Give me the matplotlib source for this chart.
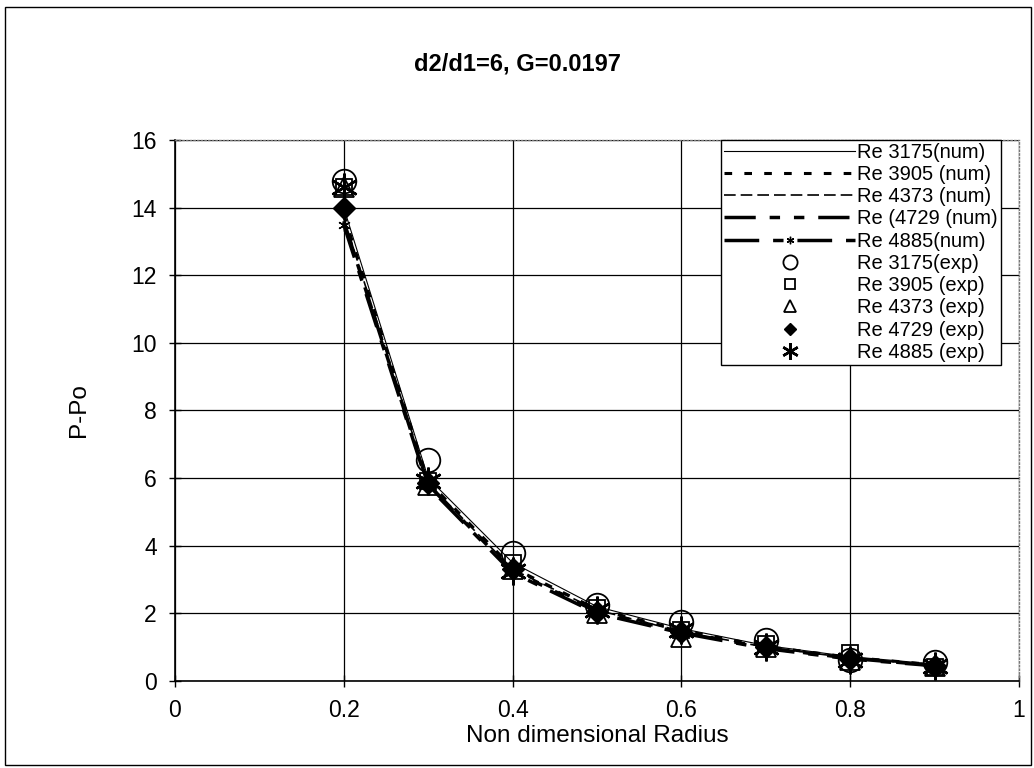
import matplotlib
matplotlib.use("Agg")
import matplotlib.pyplot as plt
from matplotlib.patches import Rectangle

plt.rcParams["font.family"] = ["Liberation Sans", "DejaVu Sans"]

# ------------------------------------------------------------
# Pressure rise P-Po along the non dimensional radius
# ------------------------------------------------------------

radius = [0.2, 0.3, 0.4, 0.5, 0.6, 0.7, 0.8, 0.9]

# numerical results
num_3175 = [14.0, 6.0, 3.5, 2.2, 1.55, 1.05, 0.72, 0.50]
num_3905 = [13.8, 5.9, 3.35, 2.12, 1.50, 1.02, 0.70, 0.48]
num_4373 = [13.7, 5.85, 3.3, 2.10, 1.46, 1.00, 0.68, 0.47]
num_4729 = [13.6, 5.8, 3.25, 2.05, 1.45, 0.98, 0.67, 0.46]
num_4885 = [13.5, 5.75, 3.2, 2.00, 1.42, 0.96, 0.65, 0.45]

# experimental results
exp_3175 = [14.8, 6.55, 3.8, 2.25, 1.75, 1.2, 0.62, 0.57]
exp_3905 = [14.6, 5.9, 3.5, 2.15, 1.5, 1.1, 0.84, 0.42]
exp_4373 = [14.6, 5.8, 3.3, 2.0, 1.3, 1.0, 0.62, 0.45]
exp_4729 = [14.0, 5.85, 3.3, 2.05, 1.45, 1.0, 0.65, 0.45]
exp_4885 = [14.6, 5.9, 3.25, 2.1, 1.5, 1.0, 0.62, 0.45]

x_ticks = [0, 0.2, 0.4, 0.6, 0.8, 1]
x_tick_labels = ["0", "0.2", "0.4", "0.6", "0.8", "1"]
y_ticks = [0, 2, 4, 6, 8, 10, 12, 14, 16]

fig = plt.figure(figsize=(10.34, 7.68), dpi=100)
ax = fig.add_axes([0.1692, 0.1133, 0.8163, 0.7044])

# outer chart frame
fig.patches.append(Rectangle((0.005, 0.004), 0.992, 0.987, transform=fig.transFigure,
                             fill=False, edgecolor="black", linewidth=1.0))

# numerical curves
ax.plot(radius, num_3175, color="black", linewidth=0.8, label="Re 3175(num)")
ax.plot(radius, num_3905, color="black", linewidth=2.2, dashes=(2.5, 4),
        label="Re 3905 (num)")
ax.plot(radius, num_4373, color="black", linewidth=1.2, dashes=(7, 3),
        label="Re 4373 (num)")
ax.plot(radius, num_4729, color="black", linewidth=2.5, dashes=(9, 4, 3, 4, 3, 4),
        label="Re (4729 (num)")
ax.plot(radius, num_4885, color="black", linewidth=2.5, dashes=(10, 4, 3, 4),
        label="Re 4885(num)", marker=(6, 2, 0), markersize=9, markeredgewidth=1.0,
        markevery=[0])

# experimental points
ax.plot(radius, exp_3175, linestyle="none", marker="o", markersize=17,
        markerfacecolor="none", markeredgecolor="black", markeredgewidth=1.3,
        label="Re 3175(exp)")
ax.plot(radius, exp_3905, linestyle="none", marker="s", markersize=12,
        markerfacecolor="none", markeredgecolor="black", markeredgewidth=1.3,
        label="Re 3905 (exp)")
ax.plot(radius, exp_4373, linestyle="none", marker="^", markersize=14,
        markerfacecolor="none", markeredgecolor="black", markeredgewidth=1.3,
        label="Re 4373 (exp)")
ax.plot(radius, exp_4729, linestyle="none", marker="D", markersize=11,
        markerfacecolor="black", markeredgecolor="black",
        label="Re 4729 (exp)")
ax.plot(radius, exp_4885, linestyle="none", marker=(6, 2, 0), markersize=20,
        markeredgecolor="black", markeredgewidth=1.8,
        label="Re 4885 (exp)")

ax.set_xlim(0, 1)
ax.set_ylim(0, 16)
ax.set_xticks(x_ticks)
ax.set_xticklabels(x_tick_labels)
ax.set_yticks(y_ticks)
ax.tick_params(direction="inout", length=8, width=1, labelsize=16.5, pad=9)

ax.grid(True, color="black", linewidth=0.9)
ax.set_axisbelow(True)

ax.spines["left"].set_linewidth(1.2)
ax.spines["bottom"].set_linewidth(1.2)
for side in ["top", "right"]:
    ax.spines[side].set_color("#777777")
    ax.spines[side].set_linestyle(":")
    ax.spines[side].set_linewidth(1.0)

fig.text(0.5, 0.917, "d2/d1=6, G=0.0197", ha="center", va="center",
         fontsize=17, fontweight="bold")
ax.set_xlabel("Non dimensional Radius", fontsize=17.5, labelpad=2)
ax.set_ylabel("P-Po", fontsize=17.5, labelpad=30)

handles, labels = ax.get_legend_handles_labels()
leg = ax.legend(handles, labels, loc="upper right", bbox_to_anchor=(0.968, 0.818),
                bbox_transform=fig.transFigure, borderaxespad=0, fontsize=14.5,
                handlelength=6.5, handletextpad=0.1, labelspacing=0.16,
                borderpad=0.15, markerscale=0.6, fancybox=False, framealpha=1,
                edgecolor="black")
leg.get_frame().set_linewidth(1.0)

plt.savefig("out.png", dpi=100)
